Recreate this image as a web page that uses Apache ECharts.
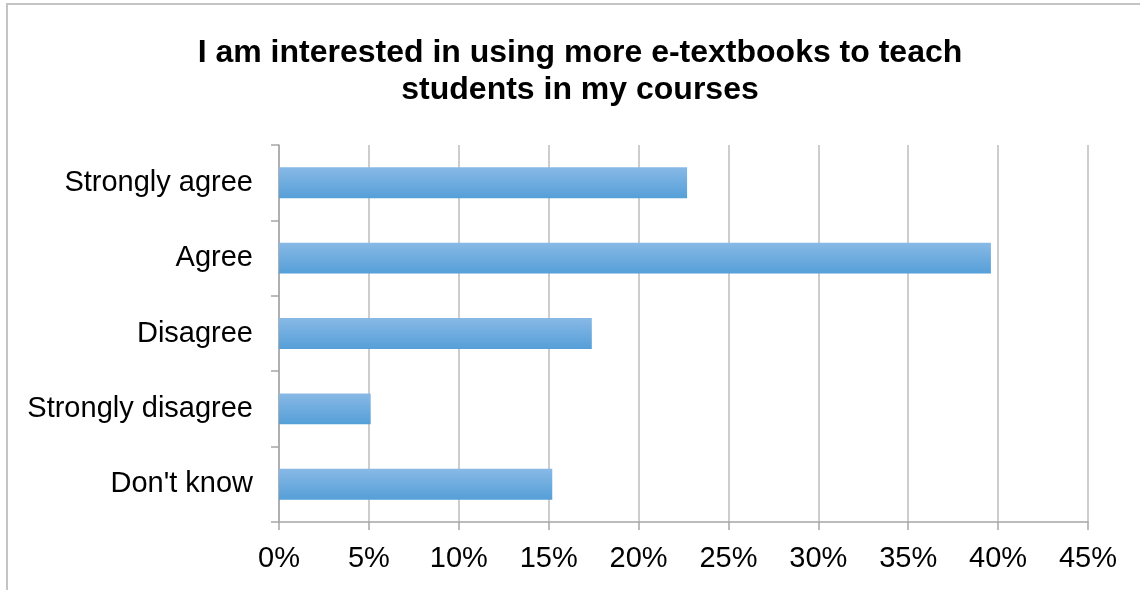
<!DOCTYPE html>
<html>
<head>
<meta charset="utf-8">
<script src="https://cdn.jsdelivr.net/npm/echarts@6/dist/echarts.min.js"></script>
<style>
  html, body { margin: 0; padding: 0; background: #fff; }
  #wrap { position: relative; width: 1140px; height: 590px; overflow: hidden; }
  #frame { position: absolute; left: 6px; top: 3px; width: 1200px; height: 700px; border: 2px solid #c4c4c4; box-sizing: border-box; }
  #chart { position: absolute; left: 0; top: 0; width: 1140px; height: 590px; }
</style>
</head>
<body>
<div id="wrap">
  <div id="frame"></div>
  <div id="chart"></div>
</div>
<script>
// answer categories, top to bottom
var categories = ['Strongly agree', 'Agree', 'Disagree', 'Strongly disagree', "Don't know"];
// share of respondents (%)
var shares = [22.7, 39.6, 17.4, 5.1, 15.2];
var tickStep = 5;
var tickMax = 45;

var myChart = echarts.init(document.getElementById('chart'));

var option = {
    backgroundColor: 'transparent',
    title: {
        text: 'I am interested in using more e-textbooks to teach\nstudents in my courses',
        left: 575,
        top: 30,
        textAlign: 'center',
        textStyle: {
            fontFamily: 'Liberation Sans',
            fontSize: 32,
            fontWeight: 'bold',
            color: '#000',
            lineHeight: 37,
            align: 'center'
        }
    },
    grid: {
        left: 279,
        right: 52,
        top: 145,
        bottom: 68
    },
    xAxis: {
        type: 'value',
        min: 0,
        max: tickMax,
        interval: tickStep,
        axisLine: { show: true, lineStyle: { color: '#a6a6a6', width: 1.5 } },
        axisTick: { show: true, length: 8, lineStyle: { color: '#a6a6a6', width: 1.5 } },
        splitLine: { show: true, lineStyle: { color: '#bdbdbd', width: 1.5 } },
        axisLabel: {
            margin: 22,
            formatter: '{value}%',
            fontFamily: 'Liberation Sans',
            fontSize: 29,
            color: '#000'
        }
    },
    yAxis: {
        type: 'category',
        inverse: true,
        data: categories,
        axisLine: { show: true, lineStyle: { color: '#a6a6a6', width: 1.5 } },
        axisTick: { show: true, length: 8, lineStyle: { color: '#a6a6a6', width: 1.5 } },
        axisLabel: {
            margin: 26,
            fontFamily: 'Liberation Sans',
            fontSize: 29,
            color: '#000'
        }
    },
    series: [{
        type: 'bar',
        data: shares,
        barWidth: '41%',
        itemStyle: {
            color: new echarts.graphic.LinearGradient(0, 0, 0, 1, [
                { offset: 0, color: '#88b9e6' },
                { offset: 1, color: '#559fd8' }
            ])
        },
        animation: false
    }],
    animation: false
};

myChart.setOption(option, true);
</script>
</body>
</html>
